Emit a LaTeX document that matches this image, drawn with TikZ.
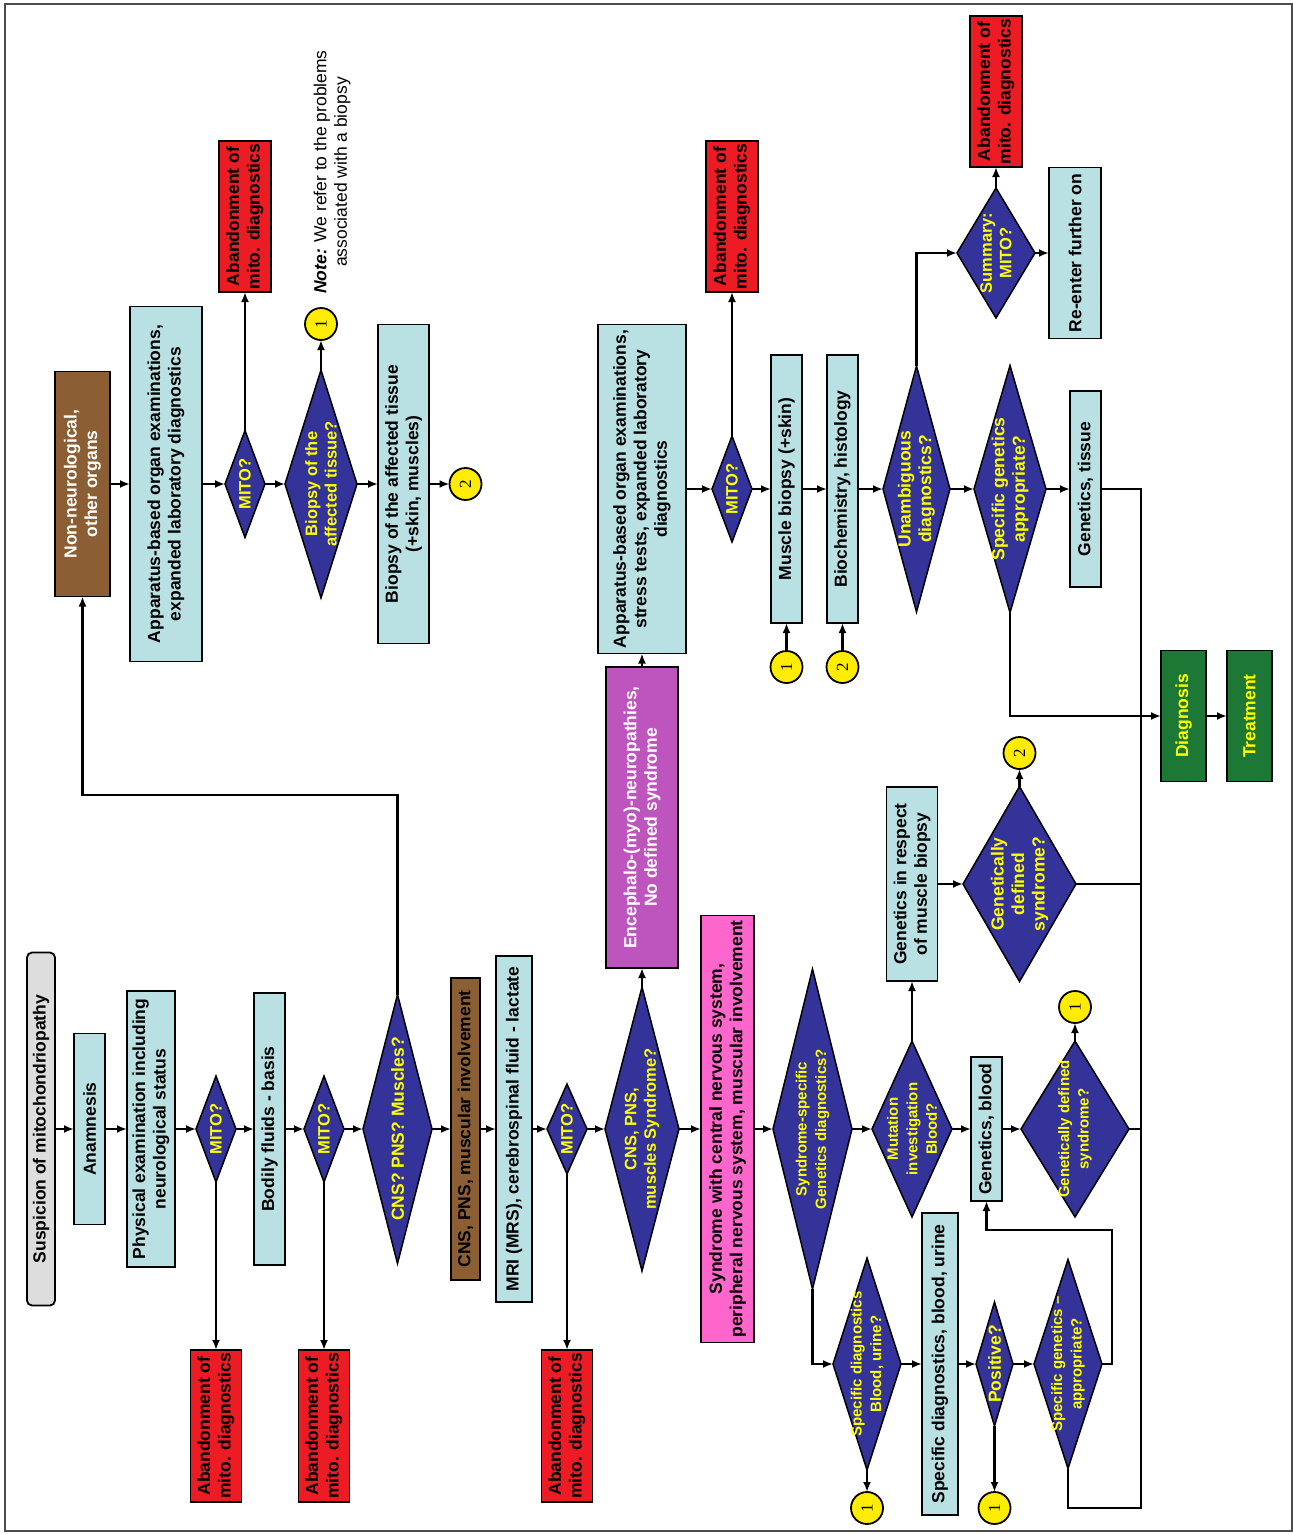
\documentclass[tikz,border=0pt]{standalone}
\usepackage{fontspec}
\setmainfont{Liberation Sans}
\newfontfamily\mynumfont{Liberation Serif}
\usetikzlibrary{shapes.geometric,arrows.meta}
\definecolor{cbx}{RGB}{185,224,227}
\definecolor{rbx}{RGB}{237,28,36}
\definecolor{brn}{RGB}{139,94,52}
\definecolor{dmdc}{RGB}{51,51,153}
\definecolor{prp}{RGB}{190,85,190}
\definecolor{pnk}{RGB}{255,102,204}
\definecolor{grn}{RGB}{28,120,52}
\definecolor{gryb}{RGB}{221,221,221}
\definecolor{cyl}{RGB}{255,236,0}
\definecolor{txty}{RGB}{255,255,0}
\newcommand\myfA{\fontsize{17.5}{20.5}\selectfont\bfseries}
\newcommand\myfM{\fontsize{16.5}{19.5}\selectfont\bfseries}
\newcommand\myfS{\fontsize{15}{19.5}\selectfont\bfseries}
\newcommand\myfR{\fontsize{17.5}{20.5}\selectfont}
\newcommand\myfN{\mynumfont\fontsize{17}{17}\selectfont}
\begin{document}
\begin{tikzpicture}[x=1pt,y=-1pt,
  shp/.style={draw=black, line width=1.8pt, inner sep=0pt, outer sep=0pt},
  cbox/.style={shp, rectangle, fill=cbx},
  rbox/.style={shp, rectangle, fill=rbx},
  dmd/.style={shp, diamond, fill=dmdc, line width=1.5pt},
  lbl/.style={rotate=90, align=center, inner sep=0pt, outer sep=0pt, font=\myfA},
  T/.style={label={[lbl]center:{#1}}},
  TW/.style={label={[lbl,text=white]center:{#1}}},
  TY/.style={label={[lbl,text=txty]center:{#1}}},
  TYm/.style={label={[lbl,text=txty,font=\myfM]center:{#1}}},
  TYs/.style={label={[lbl,text=txty,font=\myfS]center:{#1}}},
  circ/.style={shp, circle, fill=cyl, minimum size=32, label={[lbl,font=\myfN]center:{#1}}},
  sz/.style 2 args={minimum width=#1, minimum height=#2},
  conn/.style={line width=2.2pt, draw=black},
  arr/.style={conn, -{Latex[length=10pt,width=8pt]}},
]
\useasboundingbox (0,0) rectangle (1293,1534);
\draw[black!70, line width=1.3pt] (5,4) rectangle (1292,1531);

% ---- main row
\node[shp, rectangle, rounded corners=5pt, fill=gryb, sz={28}{353}, T={Suspicion of mitochondriopathy}] (susp) at (41,1129) {};
\node[cbox, sz={31}{191}, T={Anamnesis}] (anam) at (89.5,1129) {};
\node[cbox, sz={48}{276}, T={Physical examination including\\neurological status}] (phys) at (151,1129) {};
\node[dmd, sz={40}{106}, TYm={MITO?}] (mito1) at (216,1129) {};
\node[cbox, sz={31}{272}, T={Bodily fluids - basis}] (bodily) at (269.5,1129) {};
\node[dmd, sz={40}{106}, TYm={MITO?}] (mito2) at (324,1129) {};
\node[dmd, sz={69}{269}, TY={CNS? PNS? Muscles?}] (cnsq) at (397.5,1129) {};
\node[shp, rectangle, fill=brn, sz={29}{302}, T={CNS, PNS, muscular involvement}] (cnsb) at (465.5,1129) {};
\node[cbox, sz={36}{346}, T={MRI (MRS), cerebrospinal fluid - lactate}] (mri) at (514,1129) {};
\node[dmd, sz={40}{90}, TYm={MITO?}] (mito3) at (567,1129) {};
\node[dmd, sz={74}{284}, TYm={CNS, PNS,\\muscles Syndrome?}] (cnsp) at (642,1129) {};
\node[shp, rectangle, fill=pnk, sz={53}{427}, T={Syndrome with central nervous system,\\peripheral nervous system, muscular involvement}] (pink) at (727.5,1129) {};
\node[dmd, sz={79}{320}, TYs={Syndrome-specific\\Genetics diagnostics?}] (synsp) at (812.5,1129) {};
\node[dmd, sz={80}{176}, TYs={Mutation\\investigation\\Blood?}] (mut) at (912,1129) {};
\node[cbox, sz={31}{144}, T={Genetics, blood}] (genb) at (986.5,1129) {};
\node[dmd, sz={108}{176}, TYs={Genetically defined\\syndrome?}] (gdef2) at (1075,1129) {};
\node[circ=1] (c1) at (1075,1007) {};

% ---- red boxes bottom
\node[rbox, sz={51}{152}, T={Abandonment of\\mito. diagnostics}] (r1) at (216,1426) {};
\node[rbox, sz={51}{152}, T={Abandonment of\\mito. diagnostics}] (r2) at (324,1426) {};
\node[rbox, sz={51}{152}, T={Abandonment of\\mito. diagnostics}] (r3) at (567,1426) {};

% ---- lower right row
\node[dmd, sz={68}{212}, TYs={Specific diagnostics\\Blood, urine?}] (sdq) at (867,1364) {};
\node[circ=1] (c2) at (867,1508) {};
\node[cbox, sz={36}{302}, T={Specific diagnostics, blood, urine}] (sdb) at (940,1364) {};
\node[dmd, sz={37}{124}, TY={Positive?}] (pos) at (994.5,1364) {};
\node[circ=1] (c3) at (994.5,1508) {};
\node[dmd, sz={68}{209}, TYs={Specific genetics \textendash\\appropriate?}] (sg2) at (1068,1364) {};

% ---- upper left row
\node[shp, rectangle, fill=brn, sz={55}{225}, TW={Non-neurological,\\other organs}] (nonn) at (82.5,484) {};
\node[cbox, sz={72}{355}, T={Apparatus-based organ examinations,\\expanded laboratory diagnostics}] (app1) at (166,484) {};
\node[dmd, sz={40}{107}, TYm={MITO?}] (mito4) at (245,484) {};
\node[rbox, sz={52}{151}, T={Abandonment of\\mito. diagnostics}] (r4) at (245,216.5) {};
\node[dmd, sz={72}{228}, TYm={Biopsy of the\\affected tissue?}] (bq) at (321,484) {};
\node[circ=1] (c4) at (321,324) {};
\node[cbox, sz={51}{319}, T={Biopsy of the affected tissue\\(+skin, muscles)}] (bb) at (403.5,484) {};
\node[circ=2] (c5) at (465.5,484) {};
\node[lbl, font=\myfR] (note) at (332,172) {\textbf{\textit{Note:}} We refer to the problems\\associated with a biopsy};

% ---- upper right row
\node[shp, rectangle, fill=prp, sz={72}{301}, TW={Encephalo-(myo)-neuropathies,\\No defined syndrome}] (purp) at (642,817.5) {};
\node[cbox, sz={88}{329}, T={Apparatus-based organ examinations,\\stress tests, expanded laboratory\\diagnostics}] (app2) at (642,489) {};
\node[dmd, sz={40}{106}, TYm={MITO?}] (mito5) at (732,489) {};
\node[rbox, sz={52}{151}, T={Abandonment of\\mito. diagnostics}] (r5) at (732,216.5) {};
\node[cbox, sz={31}{268}, T={Muscle biopsy (+skin)}] (musc) at (786.5,489) {};
\node[circ=1] (c6) at (786.5,667) {};
\node[cbox, sz={31}{268}, T={Biochemistry, histology}] (bioc) at (842.5,489) {};
\node[circ=2] (c7) at (842.5,667) {};
\node[dmd, sz={67}{246}, TY={Unambiguous\\diagnostics?}] (unam) at (916.5,489) {};
\node[dmd, sz={78}{130}, TYm={Summary:\\MITO?}] (summ) at (996,253) {};
\node[rbox, sz={52}{151}, T={Abandonment of\\mito. diagnostics}] (r6) at (996,91.5) {};
\node[cbox, sz={52}{171}, T={Re-enter further on}] (reen) at (1075,253) {};
\node[dmd, sz={72}{247}, TY={Specific genetics\\appropriate?}] (sg1) at (1010,489) {};
\node[cbox, sz={31}{196}, T={Genetics, tissue}] (gent) at (1085.5,489) {};
\node[shp, rectangle, fill=grn, sz={45}{131}, TY={Diagnosis}] (diag) at (1183.5,716) {};
\node[shp, rectangle, fill=grn, sz={45}{131}, TY={Treatment}] (treat) at (1249.5,716) {};
\node[cbox, sz={51}{194}, T={Genetics in respect\\of muscle biopsy}] (genr) at (912,884) {};
\node[dmd, sz={113}{195}, TY={Genetically\\defined\\syndrome?}] (gdef1) at (1019.5,884) {};
\node[circ=2] (c8) at (1019.5,753) {};

% ---- straight arrows
\foreach \a/\b in {susp/anam, anam/phys, phys/mito1, mito1/bodily, bodily/mito2, mito2/cnsq,
  cnsq/cnsb, cnsb/mri, mri/mito3, mito3/cnsp, cnsp/pink, pink/synsp, synsp/mut, mut/genb, genb/gdef2,
  sdq/sdb, sdb/pos, pos/sg2, nonn/app1, app1/mito4, mito4/bq, bq/bb, bb/c5,
  app2/mito5, mito5/musc, musc/bioc, bioc/unam, unam/sg1, sg1/gent, diag/treat, genr/gdef1, summ/reen,
  mito1/r1, mito2/r2, mito3/r3, mito4/r4, mito5/r5, summ/r6, bq/c4, gdef2/c1, sdq/c2, pos/c3,
  c6/musc, c7/bioc, cnsp/purp, purp/app2, mut/genr, gdef1/c8}
  \draw[arr] (\a) -- (\b);

% ---- elbow connectors
\coordinate (k1) at (82.5,795);
\draw[arr] (cnsq.north) |- (k1) -- (nonn.south);
\draw[arr] (synsp.south) |- (sdq.west);
\coordinate (k2) at (1112,1230);
\draw[arr] (sg2.east) -| (k2) -| (genb.south);
\coordinate (k3) at (1141,1508);
\draw[conn] (gent.east) -| (k3) -| (sg2.south);
\draw[conn] (gdef1.east) -- (gdef1.east -| k3);
\draw[conn] (gdef2.east) -- (gdef2.east -| k3);
\draw[arr] (sg1.south) |- (diag.west);
\draw[arr] (unam.north) |- (summ.west);
\end{tikzpicture}
\end{document}
